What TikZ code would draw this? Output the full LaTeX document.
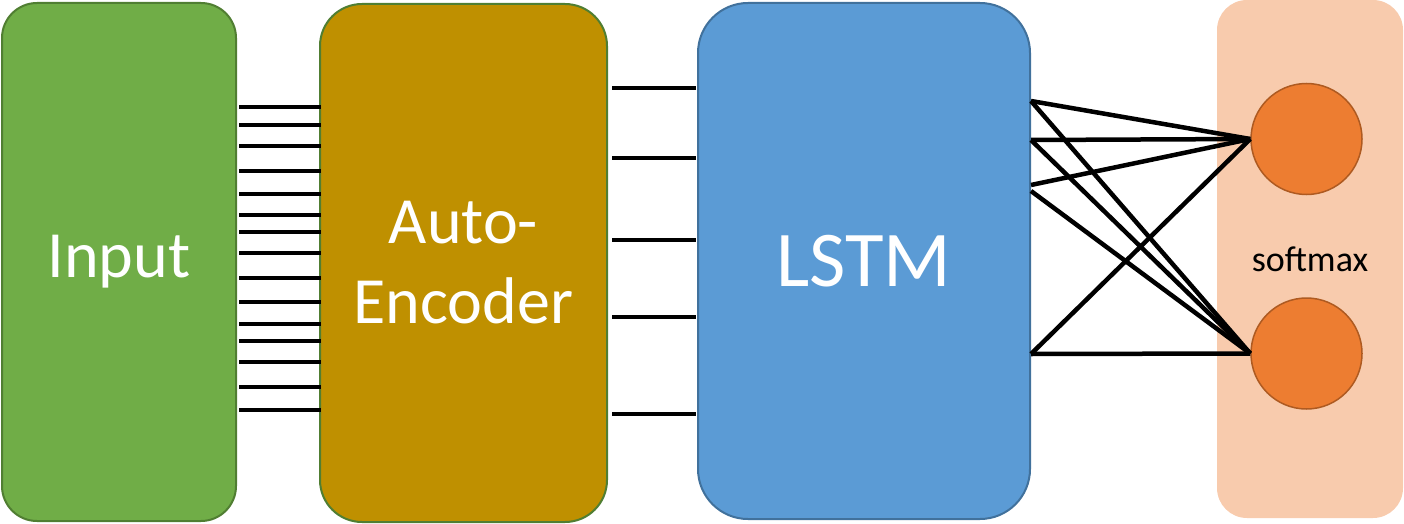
\documentclass[tikz,border=0pt]{standalone}
\usepackage{fontspec}
\setmainfont{Carlito}
\usetikzlibrary{positioning}
\definecolor{inputgreen}{HTML}{70AD47}
\definecolor{greenedge}{HTML}{507E32}
\definecolor{aegold}{HTML}{BF9000}
\definecolor{lstmblue}{HTML}{5B9BD5}
\definecolor{lstmedge}{HTML}{41719C}
\definecolor{softpeach}{HTML}{F8CBAD}
\definecolor{unitorange}{HTML}{ED7D31}
\definecolor{unitedge}{HTML}{AE5A21}

\begin{document}
\begin{tikzpicture}[x=1pt,y=-1pt,
  block/.style={rectangle, line width=2pt, text=white, align=center, inner sep=0pt},
  wire/.style={line width=4.5pt},
  unit/.style={circle, fill=unitorange, draw=unitedge, line width=1.5pt, minimum size=111pt, inner sep=0pt}]
\useasboundingbox (0,0) rectangle (1404,524);
% blocks
\node[block, fill=inputgreen, draw=greenedge, rounded corners=35pt, minimum width=234pt, minimum height=518pt, font=\fontsize{66}{80}\selectfont] (inp) at (119,262) {Input};
\node[block, fill=aegold, draw=greenedge, rounded corners=42pt, minimum width=287pt, minimum height=518pt, font=\fontsize{66}{80}\selectfont] (ae) at (463.5,263) {Auto-\\Encoder};
\node[block, fill=lstmblue, draw=lstmedge, rounded corners=50pt, minimum width=332pt, minimum height=516pt, font=\fontsize{79}{90}\selectfont] (lstm) at (864,261) {LSTM};
\node[block, fill=softpeach, text=black, rounded corners=30pt, minimum width=186pt, minimum height=518pt, font=\fontsize{36}{40}\selectfont] (soft) at (1310,259) {softmax};
\node[unit] (u1) at (1306.5,139) {};
\node[unit] (u2) at (1306.5,353.5) {};
% input -> auto-encoder
\foreach \y in {107,125,146,171,194,215,232,253,278,302,324,341,362,387,410}
  \draw[wire, shorten <=2pt, shorten >=-2pt] (inp.east |- 0,\y) -- (ae.west |- 0,\y);
% auto-encoder -> lstm
\foreach \y in {88,158,240,317,414}
  \draw[wire, shorten <=4pt, shorten >=1pt] (ae.east |- 0,\y) -- (lstm.west |- 0,\y);
% lstm -> softmax
\foreach \y/\t in {101/u1,101/u2,140/u1,140/u2,185/u1,191/u2,354/u1,354/u2}
  \draw[wire] (lstm.east |- 0,\y) -- (\t.west);
\end{tikzpicture}
\end{document}
